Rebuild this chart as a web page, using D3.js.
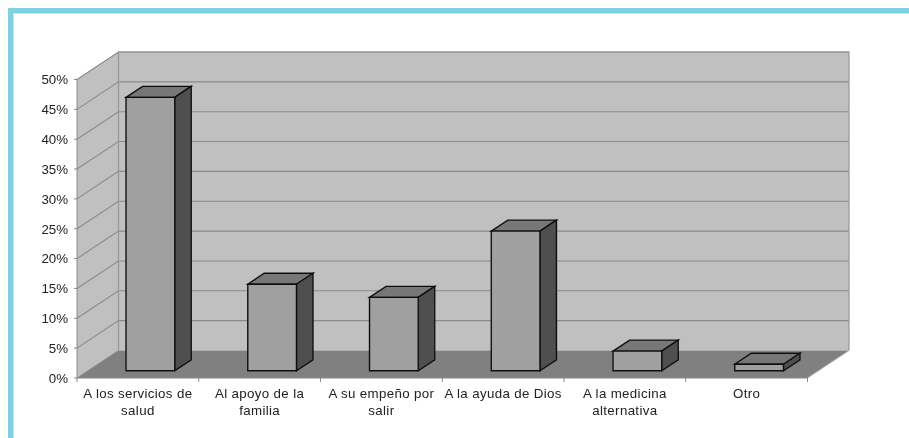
<!DOCTYPE html>
<html><head><meta charset="utf-8">
<script src="https://cdn.jsdelivr.net/npm/d3@7"></script>
<style>html,body{margin:0;padding:0;background:#fff}svg{display:block}</style>
</head><body><svg id="c" width="909" height="438"></svg>
<script>
const categories = [["A los servicios de","salud"],["Al apoyo de la","familia"],["A su empeño por","salir"],["A la ayuda de Dios"],["A la medicina","alternativa"],["Otro"]];
const values = [45.8,14.5,12.3,23.4,3.3,1.1];
const yTicks = [0,5,10,15,20,25,30,35,40,45,50];

const svg = d3.select("#c");
const root = svg.append("g").style("filter","url(#soft)");
svg.append("defs").append("filter").attr("id","soft").append("feGaussianBlur").attr("stdDeviation",0.35);

const X0=77, X1=807.5, Y0=378, Y50=79.5, DX=41.5, DY=-27.5;
const y = d3.scaleLinear().domain([0,50]).range([Y0,Y50]);
const x = d3.scaleBand().domain(d3.range(categories.length)).range([X0,X1]).paddingInner(0.6).paddingOuter(0.3);
const xEdge = d3.scaleLinear().domain([0,categories.length]).range([X0,X1]);
const line = d3.line();
const poly = (pts,fill,stroke,sw)=>root.append("path").attr("d",line(pts)+"Z").attr("fill",fill)
  .attr("stroke",stroke||"none").attr("stroke-width",sw||0).attr("stroke-linejoin","miter");

// frame
root.append("rect").attr("x",8).attr("y",8).attr("width",901).attr("height",5.5).attr("fill","#80D1E1");
root.append("rect").attr("x",8).attr("y",8).attr("width",5.5).attr("height",430).attr("fill","#80D1E1");

// walls
poly([[X0,y(0)],[X0+DX,y(0)+DY],[X0+DX,y(50)+DY],[X0,y(50)]],"#C0C0C0");
poly([[X0+DX,y(0)+DY],[X1+DX,y(0)+DY],[X1+DX,y(50)+DY],[X0+DX,y(50)+DY]],"#C0C0C0");
poly([[X0,y(0)],[X1,y(0)],[X1+DX,y(0)+DY],[X0+DX,y(0)+DY]],"#808080");

// grid
yTicks.filter(t=>t>0).forEach(t=>{
  root.append("path").attr("d",line([[X0,y(t)],[X0+DX,y(t)+DY],[X1+DX,y(t)+DY]]))
    .attr("fill","none").attr("stroke","#8A8A8A").attr("stroke-width",1.1);
});
root.append("path").attr("d",line([[X0+DX,y(0)+DY],[X0+DX,y(50)+DY],[X1+DX,y(50)+DY],[X1+DX,y(0)+DY]]))
  .attr("fill","none").attr("stroke","#969696").attr("stroke-width",1.2);

// bars
const bx=12.5, by=-7.2, dx=16.5, dy=-11;
values.forEach((v,i)=>{
  const l=x(i)+bx, r=l+x.bandwidth(), b=y(0)+by, t=y(v)+by;
  poly([[l,t],[r,t],[r+dx,t+dy],[l+dx,t+dy]],"#777777","#111",1.4);
  poly([[r,t],[r+dx,t+dy],[r+dx,b+dy],[r,b]],"#505050","#111",1.4);
  poly([[l,t],[r,t],[r,b],[l,b]],"#A0A0A0","#111",1.4);
});

// axes
const axis = root.append("g").attr("stroke","#8A8A8A").attr("fill","none");
axis.append("path").attr("d",line([[X0,y(50)],[X0,y(0)],[X1,y(0)]]));
axis.append("path").attr("d",line([[X0,y(0)],[X0+DX,y(0)+DY]]));
axis.append("path").attr("d",line([[X1,y(0)],[X1+DX,y(0)+DY]])).attr("stroke","#B0B0B0");
yTicks.forEach(t=>axis.append("line").attr("x1",X0-3).attr("x2",X0).attr("y1",y(t)).attr("y2",y(t)));
d3.range(categories.length+1).forEach(i=>axis.append("line").attr("x1",xEdge(i)).attr("x2",xEdge(i)).attr("y1",y(0)).attr("y2",y(0)+4));

// labels
const font="'Liberation Sans',Arial,sans-serif";
yTicks.forEach(t=>root.append("text").attr("x",68).attr("y",y(t)).attr("dy","0.36em").attr("text-anchor","end")
  .attr("font-family",font).attr("font-size",13.3).attr("fill","#222").text(t+"%"));
categories.forEach((ls,i)=>{
  ls.forEach((s,j)=>root.append("text").attr("x",xEdge(i+0.5)).attr("y",398+j*16.5).attr("text-anchor","middle")
    .attr("font-family",font).attr("font-size",13.3).attr("letter-spacing",0.35).attr("fill","#222").text(s));
});
</script></body></html>
